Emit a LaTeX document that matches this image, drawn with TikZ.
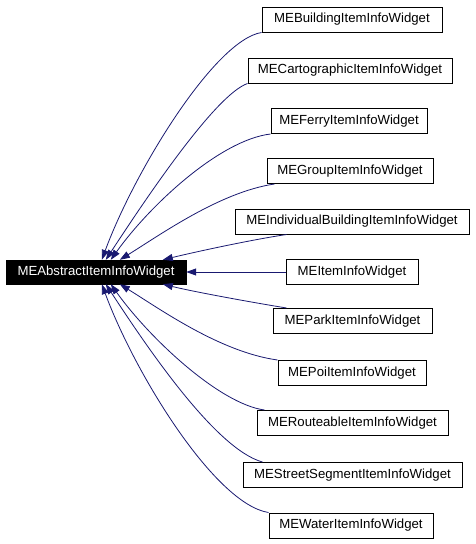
\documentclass[tikz,border=0pt]{standalone}
\usepackage{fontspec}
\setmainfont{Liberation Sans}
\usetikzlibrary{arrows.meta,calc}
\definecolor{edgeblue}{HTML}{191970}
\begin{document}
\begin{tikzpicture}[x=1pt,y=-1pt,
  cls/.style={draw=black,line width=1pt,fill=white,inner sep=0pt,minimum height=25pt,
    font=\fontsize{13.2}{15}\selectfont},
  rootbox/.style={draw=black,fill=black,text=white,inner sep=0pt,minimum height=24pt,minimum width=180pt,
    font=\fontsize{13.2}{15}\selectfont},
  inh/.style={draw=edgeblue,line width=0.8pt,-{Triangle[length=10pt,width=7pt]}}]
\useasboundingbox (0,0) rectangle (475,544);
\node[rootbox] (root) at (96,272) {MEAbstractItemInfoWidget};
\node[cls,minimum width=180pt] (bld) at (352,19.5) {MEBuildingItemInfoWidget};
\node[cls,minimum width=204pt] (cart) at (350,70.5) {MECartographicItemInfoWidget};
\node[cls,minimum width=156pt] (ferry) at (349,121) {MEFerryItemInfoWidget};
\node[cls,minimum width=166pt] (grp) at (350,171) {MEGroupItemInfoWidget};
\node[cls,minimum width=234pt] (ind) at (352,221.5) {MEIndividualBuildingItemInfoWidget};
\node[cls,minimum width=132pt] (item) at (352,272) {MEItemInfoWidget};
\node[cls,minimum width=159pt] (park) at (352.5,321) {MEParkItemInfoWidget};
\node[cls,minimum width=148pt] (poi) at (352,373) {MEPoiItemInfoWidget};
\node[cls,minimum width=191pt] (rout) at (352.5,423) {MERouteableItemInfoWidget};
\node[cls,minimum width=219pt] (street) at (352.5,475) {MEStreetSegmentItemInfoWidget};
\node[cls,minimum width=164pt] (water) at (351,525.5) {MEWaterItemInfoWidget};
% top edges
\draw[inh] (bld.south west) .. controls (215,40) and (135,170) .. ($(root.north west)+(96,0)$);
\draw[inh] (cart.south west) .. controls (215,95) and (145,200) .. ($(root.north west)+(100,0)$);
\draw[inh] (ferry.south west) .. controls (220,140) and (150,205) .. ($(root.north west)+(105,0)$);
\draw[inh] ($(grp.south west)+(8,0)$) .. controls (220,192) and (160,235) .. ($(root.north west)+(114,0)$);
\draw[inh] ($(ind.south west)+(52,0)$) .. controls (250,240) and (195,252) .. ($(root.north west)+(157,0)$);
% middle
\draw[inh] (item.west) -- (root.east);
% bottom edges
\draw[inh] ($(park.north west)+(14,0)$) .. controls (250,302) and (195,292) .. ($(root.south west)+(157,0)$);
\draw[inh] (poi.north west) .. controls (220,352) and (160,309) .. ($(root.south west)+(114,0)$);
\draw[inh] ($(rout.north west)+(8,0)$) .. controls (220,404) and (150,339) .. ($(root.south west)+(105,0)$);
\draw[inh] ($(street.north west)+(20,0)$) .. controls (215,449) and (145,344) .. ($(root.south west)+(100,0)$);
\draw[inh] (water.north west) .. controls (215,504) and (135,374) .. ($(root.south west)+(96,0)$);
\end{tikzpicture}
\end{document}
